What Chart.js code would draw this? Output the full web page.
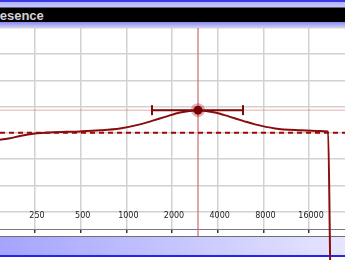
<!DOCTYPE html>
<html>
<head>
    <title>Presence</title>
    <script src="https://cdn.jsdelivr.net/npm/chart.js"></script>
    <style>
        body { margin: 0; background: #fff; }
        #wrap { position: relative; width: 345px; height: 260px; overflow: hidden; }
        #titleBar {
            position: absolute; left: 0; top: 0; width: 345px; height: 28px;
            background: linear-gradient(to bottom, #3a3ae2 0px, #3a3ae2 2px, #b0b0fc 2px, #c8c8ff 7px,
                #000 8px, #000 22px, #8a8af0 22px, #c4c4ff 27px, #383850 27px, #383850 28px);
        }
        #titleBar span {
            position: absolute; left: -14px; top: 8px; line-height: 14px;
            font: bold 13px "Liberation Sans", sans-serif; color: #d4d4d4;
        }
        #bottomPanel {
            position: absolute; left: 0; top: 236px; width: 345px; height: 21px;
            border-top: 1px solid #707070; box-sizing: border-box;
            background: linear-gradient(to right, #a4a4ff, #e6e6ff);
            border-bottom: 2px solid #2424f0;
        }
        canvas { position: absolute; left: 0; top: 0; }
    </style>
</head>
<body>
<div id="wrap">
    <div id="titleBar"><span>Presence</span></div>
    <div id="bottomPanel"></div>
    <canvas id="eqChart" width="345" height="260"></canvas>
</div>

<script>
// axis ranges and grid
const freqMin = 147;
const freqMax = 27600;
const freqTicks = [250, 500, 1000, 2000, 4000, 8000, 16000];
const dbMin = -11;
const dbMax = 12;
const dbGrid = [12, 9, 6, 3, 0, -3, -6, -9];

// response curve (Hz, dB)
const curveFreqs = [147, 171, 199, 250, 314, 500, 670, 908, 1231, 1476, 1799, 2258, 2967,
                    3840, 4823, 5873, 7046, 9549, 13950, 18900, 21350, 22050];
const curveGains = [-0.8, -0.62, -0.36, -0.08, 0.05, 0.17, 0.29, 0.51, 0.97, 1.37, 1.83, 2.34, 2.57,
                    2.34, 1.83, 1.37, 0.97, 0.51, 0.29, 0.2, 0.17, -15];

// band handle
const peakFreq = 2967;
const peakGain = 2.6;
const bandLow = 1476;
const bandHigh = 5873;

const darkRed = '#7c0a0a';
const pink = 'rgba(205,110,110,0.55)';

const curvePoints = curveFreqs.map((f, i) => ({ x: f, y: curveGains[i] }));

new Chart(document.getElementById('eqChart'), {
    type: 'scatter',
    data: {
        datasets: [
            {   // handle dot
                data: [{ x: peakFreq, y: peakGain }],
                pointRadius: 4.5,
                pointBackgroundColor: '#780000',
                pointBorderWidth: 0,
                order: 0
            },
            {   // halo
                data: [{ x: peakFreq, y: peakGain }],
                pointRadius: 7,
                pointBackgroundColor: 'rgba(170,30,30,0.35)',
                pointBorderWidth: 0,
                order: 1
            },
            {   // bandwidth bar
                data: [{ x: bandLow, y: peakGain }, { x: bandHigh, y: peakGain }],
                showLine: true,
                borderColor: darkRed,
                borderWidth: 2,
                pointStyle: 'line',
                rotation: 90,
                pointRadius: 5,
                pointBorderColor: darkRed,
                pointBorderWidth: 2,
                order: 2
            },
            {   // response
                data: curvePoints,
                showLine: true,
                borderColor: '#8a0c0c',
                borderWidth: 2,
                pointRadius: 0,
                cubicInterpolationMode: 'monotone',
                clip: { left: 0, top: 0, right: 0, bottom: 31 },
                order: 3
            },
            {   // 0 dB dashed
                data: [{ x: freqMin, y: 0 }, { x: freqMax, y: 0 }],
                showLine: true,
                borderColor: '#a00808',
                borderWidth: 2,
                borderDash: [5, 4],
                pointRadius: 0,
                order: 4
            },
            {   // cross hair horizontal
                data: [{ x: freqMin, y: peakGain }, { x: freqMax, y: peakGain }],
                showLine: true,
                borderColor: pink,
                borderWidth: 1,
                pointRadius: 0,
                order: 5
            },
            {   // cross hair vertical, runs down to the panel
                data: [{ x: peakFreq, y: dbMax }, { x: peakFreq, y: dbMin - 0.8 }],
                showLine: true,
                borderColor: pink,
                borderWidth: 1,
                pointRadius: 0,
                clip: { left: 0, top: 0, right: 0, bottom: 8 },
                order: 5
            }
        ]
    },
    options: {
        responsive: false,
        animation: false,
        layout: { autoPadding: false, padding: { top: 28, left: 0, right: 0, bottom: 0 } },
        plugins: { legend: { display: false }, tooltip: { enabled: false } },
        scales: {
            x: {
                type: 'logarithmic',
                min: freqMin,
                max: freqMax,
                position: 'bottom',
                afterBuildTicks: s => { s.ticks = freqTicks.map(v => ({ value: v })); },
                afterFit: s => { s.height = 31; s.paddingLeft = 0; s.paddingRight = 0; },
                grid: { color: '#d2d2d2', lineWidth: 1.5, tickLength: 4, tickColor: '#383838', tickWidth: 1.5 },
                border: { color: '#7a7a7a', width: 1 },
                ticks: {
                    mirror: true,
                    padding: 8,
                    labelOffset: 2,
                    autoSkip: false,
                    maxRotation: 0,
                    color: '#1a1a1a',
                    font: { family: 'DejaVu Sans', size: 8 },
                    callback: v => String(v)
                }
            },
            y: {
                min: dbMin,
                max: dbMax,
                afterBuildTicks: s => { s.ticks = dbGrid.map(v => ({ value: v })); },
                afterFit: s => { s.width = 0; s.paddingTop = 0; s.paddingBottom = 0; },
                grid: { color: '#d2d2d2', lineWidth: 1.5, drawTicks: false },
                border: { display: false },
                ticks: { display: false }
            }
        }
    }
});
</script>
</body>
</html>
